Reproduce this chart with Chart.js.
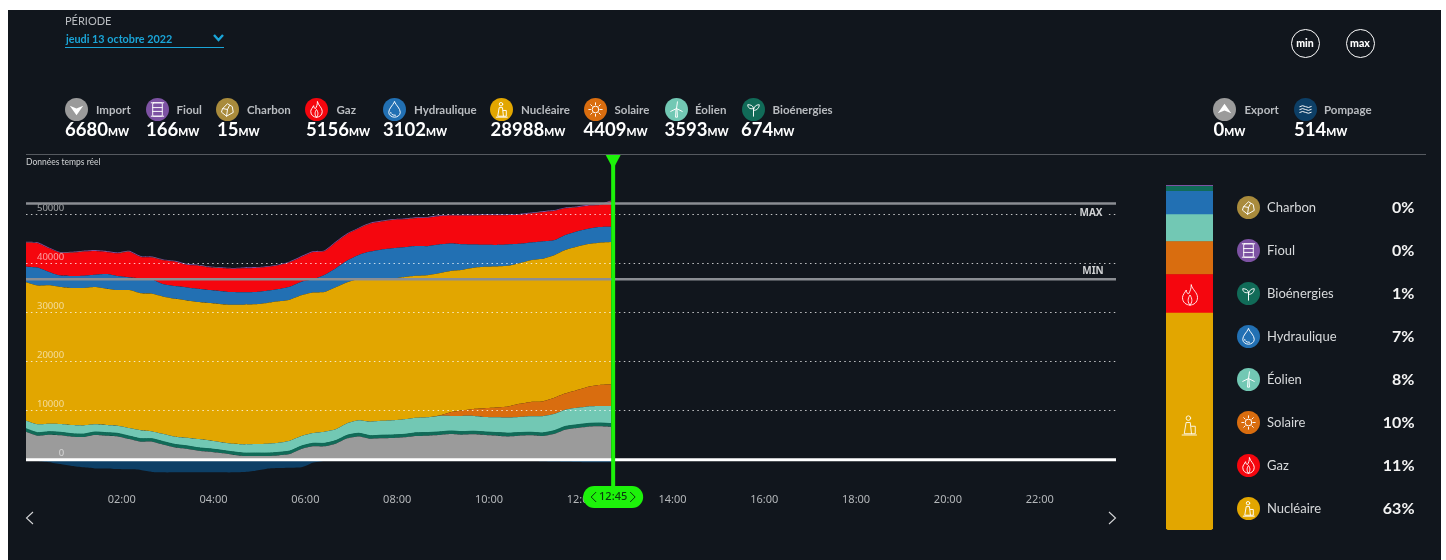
<!DOCTYPE html>
<html lang="fr">
<head>
<meta charset="UTF-8" />
<title>Production d'électricité</title>
<script src="https://cdn.jsdelivr.net/npm/chart.js"></script>
<style>
  html, body { margin: 0; padding: 0; background: #fff; }
  body { width: 1446px; height: 560px; position: relative; overflow: hidden; font-family: Lato, "Noto Sans", sans-serif; }
  #bg { position: absolute; left: 8px; top: 10px; width: 1433px; height: 550px; background: #11161d; }
  #chart { position: absolute; left: 0; top: 0; }
  #barWrap { position: absolute; left: 1166px; top: 185px; width: 47px; height: 345px; }
  .abs { position: absolute; white-space: nowrap; }
  .ico { position: absolute; width: 23px; height: 23px; border-radius: 50%; }
  .ico svg, .inbar svg { width: 100%; height: 100%; display: block; }
  .inbar { position: absolute; width: 30px; height: 36px; }
  .inbar svg * { stroke-width: 0.7; }
  .lab { color: #b9bcc0; font-size: 11.5px; font-weight: 700; }
  .val { color: #fff; font-size: 18.5px; font-weight: 700; line-height: 20px; }
  .val small { font-size: 10.5px; font-weight: 900; margin-left: 0; }
  .rl { color: #d8dadc; font-size: 13px; }
  .rp { color: #f4f4f4; font-size: 16px; font-weight: 700; text-align: right; width: 50px; }
  .round { width: 27px; height: 27px; border: 1.8px solid #fff; border-radius: 50%; color: #fff; font-size: 10.5px; font-weight: 900; text-align: center; line-height: 26px; }
</style>
</head>
<body>
<div id="bg"></div>
<canvas id="chart" width="1446" height="560"></canvas>
<div id="barWrap"><canvas id="bar" width="47" height="345"></canvas></div>
<div id="ui"></div>

<script>
const heures = [
  "00:00","00:15","00:30","00:45","01:00","01:15","01:30","01:45","02:00","02:15","02:30","02:45",
  "03:00","03:15","03:30","03:45","04:00","04:15","04:30","04:45","05:00","05:15","05:30","05:45",
  "06:00","06:15","06:30","06:45","07:00","07:15","07:30","07:45","08:00","08:15","08:30","08:45",
  "09:00","09:15","09:30","09:45","10:00","10:15","10:30","10:45","11:00","11:15","11:30","11:45",
  "12:00","12:15","12:30","12:45","13:00","13:15","13:30","13:45","14:00","14:15","14:30","14:45",
  "15:00","15:15","15:30","15:45","16:00","16:15","16:30","16:45","17:00","17:15","17:30","17:45",
  "18:00","18:15","18:30","18:45","19:00","19:15","19:30","19:45","20:00","20:15","20:30","20:45",
  "21:00","21:15","21:30","21:45","22:00","22:15","22:30","22:45","23:00","23:15","23:30","23:45"
];
const heuresAffichees = ["02:00","04:00","06:00","08:00","10:00","12:00","14:00","16:00","18:00","20:00","22:00"];
const graduations = [0, 10000, 20000, 30000, 40000, 50000];
const seuilMax = 52200;
const seuilMin = 36740;
const heureCurseur = "12:45";

const importMw = [5700,4890,5090,4960,4690,4620,5030,4890,4750,4210,3670,3670,3060,2510,2240,1830,1630,1360,1020,750,750,750,880,1150,2170,2720,2720,3260,4350,4750,4280,4350,4410,4550,4820,4890,5030,5230,5090,5160,5030,4890,4750,4890,4960,4820,5230,6110,6450,6720,6790,6680];
const bioenergies = [610,620,610,620,610,600,610,620,610,600,610,600,610,600,590,600,590,580,590,600,610,600,610,620,610,620,610,630,640,630,620,640,630,620,650,640,630,620,630,640,630,640,650,640,630,640,660,670,660,670,680,674];
const eolien = [1630,1700,1630,1700,1770,1770,1560,1560,1560,1630,1700,1490,1560,1560,1630,1770,1700,1630,1630,1770,1830,1900,1970,2100,2040,2100,2380,2310,2440,2650,2850,2920,2990,3060,3060,3120,3260,3060,3190,3120,3060,3120,3190,3190,3260,3400,3400,3400,3460,3460,3460,3593];
const solaire = [0,0,0,0,0,0,0,0,0,0,0,0,0,0,0,0,0,0,0,0,0,0,0,0,0,0,0,0,0,0,0,0,0,0,0,0,70,750,1150,1430,1770,1970,2240,2650,2920,2990,3260,3330,3600,4010,4280,4409];
const nucleaire = [28180,28250,28180,27910,27910,27980,27980,27770,27640,28110,27910,28040,27980,28110,27980,27910,27980,28110,28310,28450,28450,28650,28790,28720,28650,28590,28450,28930,28720,28790,28990,28930,28860,28990,28930,28930,28990,28790,28590,28720,28790,28720,28650,28650,28860,29060,29060,29200,29200,29060,28990,28988];
const hydraulique = [3190,3670,2720,2310,2440,2510,2510,2990,2850,2580,3060,2920,2510,2580,2650,2720,2650,2650,2580,2510,2510,2510,2510,2650,2780,2720,3460,3870,4410,4890,5640,5980,6180,6040,6040,5910,5840,5570,5230,4750,4480,4410,4350,3940,3600,3530,3060,3060,3120,3120,3190,3102];
const gaz = [4890,4960,4820,4620,4750,4890,4820,4480,4620,5230,4350,4480,4890,4960,4620,4690,4620,4690,4750,4890,4890,4820,4820,4960,5030,5500,4820,5230,5360,5360,5700,5700,5770,5700,5700,5770,5770,5700,5840,5910,6040,6040,5980,5910,5910,5980,5980,5430,4890,4690,4480,5156];
const charbon = [15,15,15,15,15,15,15,15,15,15,15,15,15,15,15,15,15,15,15,15,15,15,15,15,15,15,15,15,15,15,15,15,15,15,15,15,15,15,15,15,15,15,15,15,15,15,15,15,15,15,15,15];
const fioul = [170,170,170,170,170,170,170,170,170,170,170,170,170,170,170,170,170,170,170,170,170,170,170,170,170,170,170,170,170,170,170,170,170,170,170,170,170,170,170,170,170,170,170,170,170,170,170,170,170,170,170,166];
const pompage = [-150,-250,-500,-880,-1290,-1560,-1770,-1770,-1900,-1970,-2100,-2510,-2580,-2580,-2580,-2580,-2580,-2580,-2580,-2510,-2240,-1830,-1700,-1630,-1560,-610,-250,-200,-200,-200,-200,-200,-200,-200,-200,-200,-200,-200,-200,-200,-200,-200,-200,-200,-200,-300,-350,-400,-450,-500,-510,-514];

const filieresTop = ["Import","Fioul","Charbon","Gaz","Hydraulique","Nucléaire","Solaire","Éolien","Bioénergies","Export","Pompage"];
const mwTop = [6680,166,15,5156,3102,28988,4409,3593,674,0,514];
const filieresDroite = ["Charbon","Fioul","Bioénergies","Hydraulique","Éolien","Solaire","Gaz","Nucléaire"];
const partsDroite = [0,0,1,7,8,10,11,63];
const filieresBarre = ["Nucléaire","Gaz","Solaire","Éolien","Hydraulique","Bioénergies","Charbon","Fioul"];
const mwBarre = [28988,5156,4409,3593,3102,674,15,166];

const couleurs = {
  "Import": "#9b9b9b", "Export": "#9b9b9b", "Fioul": "#7d52a3", "Charbon": "#a98b3c", "Gaz": "#f5060e",
  "Hydraulique": "#2270b3", "Nucléaire": "#e2a600", "Solaire": "#d96d0f", "Éolien": "#72c8b4",
  "Bioénergies": "#116b58", "Pompage": "#0d3f66"
};
const vert = "#1df20a";

// dessin de la courbe principale
function aire(nom, data, fill) {
  return { label: nom, data, fill, backgroundColor: couleurs[nom], borderColor: couleurs[nom],
           borderWidth: nom === "Bioénergies" ? 1 : 0, pointRadius: 0, tension: 0.2 };
}

const repères = {
  id: "reperes",
  afterDraw(chart) {
    const { ctx, scales: { x, y } } = chart;
    const g = x.left, d = x.right;
    ctx.save();
    const ligne = (val, coul, ep) => {
      ctx.strokeStyle = coul; ctx.lineWidth = ep;
      ctx.beginPath(); ctx.moveTo(g, y.getPixelForValue(val)); ctx.lineTo(d, y.getPixelForValue(val)); ctx.stroke();
    };
    ligne(seuilMax, "#8b8e93", 2.5);
    ligne(seuilMin, "#8b8e93", 2.5);
    ligne(0, "#ffffff", 3);

    ctx.font = "700 10px 'Noto Sans'";
    ctx.textAlign = "center"; ctx.textBaseline = "middle";
    ctx.fillStyle = "#11161d"; ctx.fillRect(1076, y.getPixelForValue(seuilMax) + 5, 30, 10);
    ctx.fillStyle = "#cfd1d3";
    ctx.fillText("MAX", 1091, y.getPixelForValue(seuilMax) + 10);
    ctx.fillText("MIN", 1093, y.getPixelForValue(seuilMin) - 8);

    // curseur
    const cx = x.getPixelForValue(heures.indexOf(heureCurseur)) + 2;
    ctx.fillStyle = vert;
    ctx.fillRect(cx - 2, 155, 4, 335);
    ctx.beginPath(); ctx.moveTo(cx - 8, 154); ctx.lineTo(cx + 8, 154); ctx.lineTo(cx, 169); ctx.closePath(); ctx.fill();
    ctx.beginPath(); ctx.roundRect(cx - 30, 486, 60, 22, 11); ctx.fill();
    ctx.fillStyle = "#0b3a10"; ctx.font = "500 11px 'Noto Sans'";
    ctx.fillText(heureCurseur, cx, 497);
    ctx.strokeStyle = "#0b3a10"; ctx.lineWidth = 1;
    ctx.beginPath();
    ctx.moveTo(cx - 17, 492); ctx.lineTo(cx - 22, 497); ctx.lineTo(cx - 17, 502);
    ctx.moveTo(cx + 17, 492); ctx.lineTo(cx + 22, 497); ctx.lineTo(cx + 17, 502);
    ctx.stroke();
    ctx.restore();
  }
};

new Chart(document.getElementById("chart"), {
  type: "line",
  plugins: [repères],
  data: {
    labels: heures,
    datasets: [
      aire("Import", importMw, "origin"),
      aire("Bioénergies", bioenergies, "-1"),
      aire("Éolien", eolien, "-1"),
      aire("Solaire", solaire, "-1"),
      aire("Nucléaire", nucleaire, "-1"),
      aire("Hydraulique", hydraulique, "-1"),
      aire("Gaz", gaz, "-1"),
      aire("Charbon", charbon, "-1"),
      aire("Fioul", fioul, "-1"),
      Object.assign(aire("Pompage", pompage, "origin"), { stack: "pompage" })
    ]
  },
  options: {
    responsive: false,
    animation: false,
    layout: { padding: { left: 26, right: 330, top: 189.65, bottom: 50.66 } },
    plugins: { legend: { display: false }, tooltip: { enabled: false } },
    scales: {
      x: {
        grid: { display: false },
        border: { display: false },
        afterFit: s => { s.height = 30; },
        ticks: {
          autoSkip: false, maxRotation: 0, minRotation: 0, padding: 6, labelOffset: 4,
          color: "#b4b7ba", font: { family: "Noto Sans", size: 11 },
          callback: (v, i) => heuresAffichees.includes(heures[i]) ? heures[i] : ""
        }
      },
      y: {
        stacked: true,
        min: -4000,
        max: 55000,
        afterFit: s => { s.width = 0; },
        afterBuildTicks: s => { s.ticks = graduations.map(value => ({ value })); },
        grid: { color: "rgba(255,255,255,0.75)", lineWidth: 1, drawTicks: false, z: 1 },
        border: { display: false, dash: [1.5, 3.4] },
        ticks: {
          z: 1, mirror: true, padding: 11, labelOffset: -6, color: "rgba(255,255,255,0.6)",
          font: { family: "Noto Sans", size: 9.5 },
          callback: v => String(v).padStart(5, "\u2007")
        }
      }
    }
  }
});

// barre empilée de droite
new Chart(document.getElementById("bar"), {
  type: "bar",
  data: {
    labels: ["mix"],
    datasets: filieresBarre.map((nom, i) => ({
      label: nom, data: [mwBarre[i]], backgroundColor: couleurs[nom], barPercentage: 1, categoryPercentage: 1,
      borderWidth: 0, borderSkipped: false,
      borderRadius: i === 0 ? { bottomLeft: 4, bottomRight: 4, topLeft: 0, topRight: 0 } : 0
    }))
  },
  options: {
    responsive: false,
    animation: false,
    layout: { padding: 0 },
    plugins: { legend: { display: false }, tooltip: { enabled: false } },
    scales: {
      x: { stacked: true, display: false },
      y: { stacked: true, display: false, min: 0, max: mwBarre.reduce((a, b) => a + b, 0) }
    }
  }
});

// icones
const trait = 'fill="none" stroke="#fff" stroke-width="1" stroke-linejoin="round" stroke-linecap="round"';
const formes = {
  "Import": '<path d="M5 8 L12 11 L19 8 L12 18 Z" fill="#fff"/>',
  "Export": '<path d="M5 16 L12 13 L19 16 L12 6 Z" fill="#fff"/>',
  "Fioul": `<g ${trait} stroke-width="1.4"><rect x="7" y="5" width="10" height="14" rx="1"/><path d="M7 10 H17 M7 14 H17 M5.5 5 H18.5 M5.5 19 H18.5"/></g>`,
  "Charbon": `<path ${trait} d="M7 11 L12 6 L17 9 L18 15 L11 19 L6 15 Z M7 11 L12 12 L11 19 M12 12 L14 8"/>`,
  "Gaz": `<path ${trait} d="M13 4 C14 8 18 10 18 14 C18 18 15 20 12 20 C9 20 6 18 6 14 C6 12 8 10 9 8 C9 10 10 11 11 11 C12 9 13 7 13 4 Z M12 20 C10 18 10 15 12 12 C14 15 14 18 12 20 Z"/>`,
  "Hydraulique": `<path ${trait} stroke-width="1.2" d="M12 4 C14 8 18 11 18 15 C18 18 15 20 12 20 C9 20 6 18 6 15 C6 11 10 8 12 4 Z M8 15 C8 17 10 18 13 18"/>`,
  "Nucléaire": `<path ${trait} d="M10 10 H13 L14 19 H8.5 Z M14 13 H17 V19 H14 M6.5 20 H18"/><circle ${trait} cx="11.5" cy="6.5" r="1.8"/>`,
  "Solaire": `<circle ${trait} cx="12" cy="12" r="3.5"/><path ${trait} d="M12 5 V7 M12 17 V19 M5 12 H7 M17 12 H19 M7 7 L8.5 8.5 M15.5 15.5 L17 17 M17 7 L15.5 8.5 M8.5 15.5 L7 17"/>`,
  "Éolien": `<path ${trait} d="M12 11 L13 4 M12 11 L6 14 M12 11 L18 14 M11.5 12 L11 20 H13 L12.5 12"/>`,
  "Bioénergies": `<path ${trait} d="M12 19 V11 M12 11 C12 8 9 7 6 7 C6 10 8 12 12 11 Z M12 13 C12 9 15 7 18 7 C18 10 16 13 12 13 Z"/>`,
  "Pompage": `<path ${trait} stroke-width="0.8" d="M6 9 Q9 7 12 9 T18 9 M6 12 Q9 10 12 12 T18 12 M6 15 Q9 13 12 15 T18 15"/>`
};
const svg = nom => `<svg viewBox="0 0 24 24">${formes[nom]}</svg>`;

const ui = document.getElementById("ui");
function ajoute(cls, style, html) {
  const el = document.createElement("div");
  el.className = cls; el.style.cssText = style; el.innerHTML = html;
  ui.appendChild(el);
}

// entete
const topIcone = [64.5,145.5,216,305,382.5,489.5,583.5,664.5,741.5,1212.5,1293.5];
const topLabel = [96,176.5,247,336.5,414,521,614.5,695,772.5,1244.5,1324];
const topValeur = [65,146,217,306,383,490.5,583.5,664.5,741,1213.5,1294];
filieresTop.forEach((nom, i) => {
  ajoute("ico", `left:${topIcone[i]}px;top:97.5px;background:${couleurs[nom]}`, svg(nom));
  ajoute("abs lab", `left:${topLabel[i]}px;top:103px`, nom);
  ajoute("abs val", `left:${topValeur[i]}px;top:119px`, `${mwTop[i]}<small>MW</small>`);
});

ajoute("abs", "left:65px;top:14px;color:#b9bcc0;font-size:11px", "PÉRIODE");
ajoute("abs", "left:66px;top:32px;color:#1aa5d8;font-size:10.8px;font-weight:700", "jeudi 13 octobre 2022");
ajoute("abs", "left:65px;top:47px;width:159px;height:1px;background:#1aa5d8", "");
ajoute("abs", "left:212px;top:33px;width:13px;height:10px;line-height:0",
  '<svg viewBox="0 0 13 10" width="13" height="10" style="display:block"><path d="M2 2 L6.5 7 L11 2" fill="none" stroke="#1aa5d8" stroke-width="2.4"/></svg>');
ajoute("abs round", "left:1290.5px;top:29px", "min");
ajoute("abs round", "left:1345.5px;top:29px", "max");
ajoute("abs", "left:26px;top:154px;width:1400px;height:1px;background:#565a60", "");
ajoute("abs", "left:26px;top:157px;color:#d0d2d4;font-size:8.5px", "Données temps réel");

const fleche = d => `<svg viewBox="0 0 12 16" width="12" height="16"><path d="${d}" fill="none" stroke="#d5d6d8" stroke-width="1.1"/></svg>`;
ajoute("abs", "left:24px;top:510px", fleche("M9 2 L2.5 8 L9 14"));
ajoute("abs", "left:1106px;top:510px", fleche("M3 2 L9.5 8 L3 14"));

// icones dans la barre
ajoute("inbar", "left:1175px;top:277px", svg("Gaz"));
ajoute("inbar", "left:1174px;top:407px", svg("Nucléaire"));

// legende de droite
const droiteY = [207,250,293,336,379,422,465,508.5];
filieresDroite.forEach((nom, i) => {
  ajoute("ico", `left:1236.5px;top:${droiteY[i] - 11.5}px;background:${couleurs[nom]}`, svg(nom));
  ajoute("abs rl", `left:1267px;top:${droiteY[i] - 8.5}px`, nom);
  ajoute("abs rp", `left:1364.5px;top:${droiteY[i] - 10.5}px`, partsDroite[i] + "%");
});
</script>
</body>
</html>
